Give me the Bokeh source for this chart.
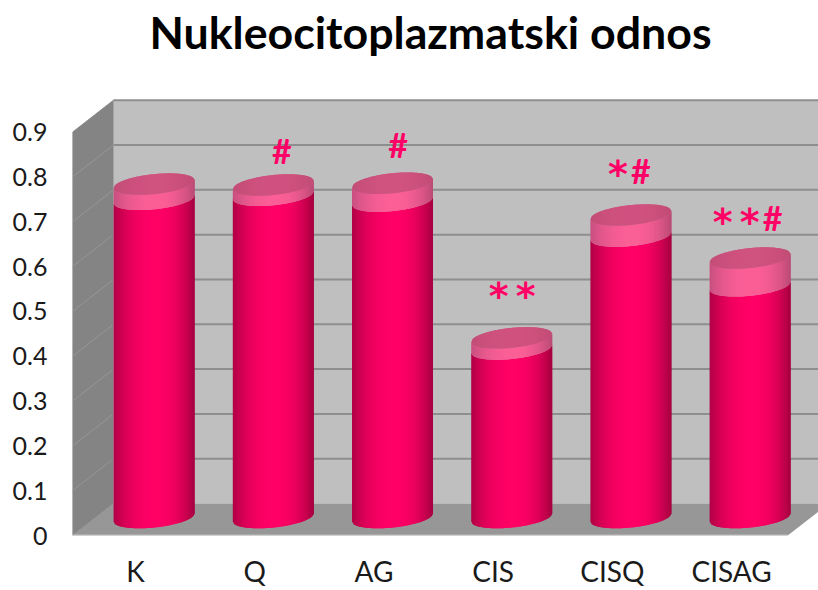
import math
from bokeh.plotting import figure
from bokeh.models import Range1d, FixedTicker
from bokeh.core.properties import value
from bokeh.embed import file_html
from bokeh.resources import INLINE

categories = ["K", "Q", "AG", "CIS", "CISQ", "CISAG"]
body_values = [0.710, 0.719, 0.706, 0.376, 0.628, 0.517]
total_values = [0.744, 0.742, 0.746, 0.401, 0.675, 0.579]
y_ticks = [0, 0.1, 0.2, 0.3, 0.4, 0.5, 0.6, 0.7, 0.8, 0.9]
y_tick_labels = ["0", "0.1", "0.2", "0.3", "0.4", "0.5", "0.6", "0.7", "0.8", "0.9"]
marker_texts = ["", "#", "#", "**", "*#", "**#"]
marker_heights = [0.0, 0.860, 0.873, 0.543, 0.815, 0.709]
marker_first_dx = [0, 8.5, 5.5, -13, -13, -27.5]

TITLE = "Nukleocitoplazmatski odnos"
W, H = 818, 590
LEFT, BOTTOM, TOP = 72, 54, 0
PX, PY = 1 / 119.2, 1 / 449.0
DEPTH_X, DEPTH_Y = 41 * PX, 32 * PY
BAR_DX, BAR_DY = 22 * PX, 18 * PY
LABEL_DX = 3.5 * PX
A, B, TILT = 40.5, 10.0, 4.0 / 40.5
N = 81
INK = "#FF0066"


def mix(c1, c2, t):
    a = [int(c1[i:i + 2], 16) for i in (1, 3, 5)]
    b = [int(c2[i:i + 2], 16) for i in (1, 3, 5)]
    return "#%02x%02x%02x" % tuple(round(a[i] + (b[i] - a[i]) * t) for i in range(3))


def shade(u, left, mid, right):
    peak = 0.05
    if u < peak:
        t = min(1, (peak - u) / (1 + peak))
        return mix(mid, left, t ** 2.2)
    t = min(1, (u - peak) / (1 - peak))
    return mix(mid, right, t ** 2.2)


x_end = (W - LEFT) * PX
y_end = (H - TOP - BOTTOM) * PY
p = figure(width=W, height=H, output_backend="svg", toolbar_location=None,
           x_range=Range1d(0, x_end), y_range=Range1d(0, y_end),
           min_border_left=LEFT, min_border_right=0, min_border_bottom=BOTTOM, min_border_top=TOP,
           outline_line_color=None, background_fill_color="white")
p.grid.visible = False

p.yaxis.ticker = FixedTicker(ticks=y_ticks)
p.yaxis.major_label_overrides = dict(zip(y_ticks, y_tick_labels))
tick_positions = [i + 0.5 + LABEL_DX for i in range(len(categories))]
p.xaxis.ticker = FixedTicker(ticks=tick_positions)
p.xaxis.major_label_overrides = dict(zip(tick_positions, categories))
for ax in (p.xaxis, p.yaxis):
    ax.axis_line_color = None
    ax.major_tick_line_color = None
    ax.minor_tick_line_color = None
    ax.major_tick_in = 0
    ax.major_tick_out = 0
    ax.major_label_text_font = "Lato"
    ax.major_label_text_color = "#1a1a1a"
p.yaxis.major_label_text_font_size = "25px"
p.xaxis.major_label_text_font_size = "28px"
p.yaxis.major_label_standoff = 25
p.xaxis.major_label_standoff = 18

top_v = y_ticks[-1]
right = x_end + 1
p.patch([0, DEPTH_X, DEPTH_X, 0], [0, DEPTH_Y, top_v + DEPTH_Y, top_v], fill_color="#848484", line_color="#8a8a8a", line_width=1)
p.patch([DEPTH_X, right, right, DEPTH_X], [DEPTH_Y, DEPTH_Y, top_v + DEPTH_Y, top_v + DEPTH_Y], fill_color="#bfbfbf", line_color=None)
front_right = len(categories)
p.patch([0, front_right, front_right + DEPTH_X, DEPTH_X], [0, 0, DEPTH_Y, DEPTH_Y], fill_color="#979797", line_color=None)
p.segment([0], [0], [front_right], [0], line_color="#bdbdbd", line_width=2)
p.segment([DEPTH_X] * len(y_ticks[1:]), [t + DEPTH_Y for t in y_ticks[1:]],
          [right] * len(y_ticks[1:]), [t + DEPTH_Y for t in y_ticks[1:]],
          line_color="#8e8e8e", line_width=2)
p.segment([0] * len(y_ticks[1:-1]), y_ticks[1:-1], [DEPTH_X] * len(y_ticks[1:-1]), [t + DEPTH_Y for t in y_ticks[1:-1]],
          line_color="#969696", line_width=1)


def curve(level, dx, side):
    r = max(0.0, 1 - (dx / A) ** 2)
    return level + (TILT * dx + side * B * math.sqrt(r)) * PY


def band(cx, low, high, low_side, high_side, stops):
    xs, ys, cols = [], [], []
    for k in range(N):
        d0 = -A + 2 * A * k / N
        d1 = -A + 2 * A * (k + 1) / N
        d2 = min(A, d1 + 1.0)  # each strip runs under the next, so no seams show
        xs.append([cx + d0 * PX, cx + d2 * PX, cx + d2 * PX, cx + d0 * PX])
        ys.append([curve(low, d0, low_side), curve(low, d2, low_side),
                   curve(high, d2, high_side), curve(high, d0, high_side)])
        cols.append(shade((d0 + d1) / (2 * A), *stops))
    p.patches(xs, ys, fill_color=cols, line_color=None)


for i, (b_v, t_v) in enumerate(zip(body_values, total_values)):
    cx = i + 0.5 + BAR_DX
    band(cx, BAR_DY, b_v + BAR_DY, -1, -1, ("#b00045", "#ff0066", "#a3003f"))
    band(cx, b_v + BAR_DY, t_v + BAR_DY, -1, -1, ("#c85080", "#fb5f96", "#b84a74"))
    band(cx, t_v + BAR_DY, t_v + BAR_DY, -1, 1, ("#c24d76", "#d0527f", "#c04c74"))

STEP = {"**": 27, "*#": 23}
star_x, star_y, hash_x, hash_y = [], [], [], []
for i, text in enumerate(marker_texts):
    pos = i + 0.5 + BAR_DX + marker_first_dx[i] * PX
    for j, ch in enumerate(text):
        if ch == "*":
            star_x.append(pos)
            star_y.append(marker_heights[i])
        else:
            hash_x.append(pos)
            hash_y.append(marker_heights[i])
        if j + 1 < len(text):
            pos += STEP[text[j:j + 2]] * PX

p.text(hash_x, hash_y, text=["#"] * len(hash_x), text_color=INK, text_font=value("Lato"),
       text_font_size="34px", text_align="center", text_baseline="middle", text_font_style="bold")
p.text(star_x, [y - 4 * PY for y in star_y], text=["*"] * len(star_x), text_color=INK, text_font=value("DejaVu Sans"),
       text_font_size="38px", text_align="center", text_baseline="middle", text_font_style="bold")

p.text([(430 - LEFT) * PX], [(H - BOTTOM - 32) * PY], text=[TITLE], text_align="center",
       text_baseline="middle", text_font=value("Lato"), text_font_size="44.7px",
       text_font_style="bold", text_color="#000000")

open("out.html", "w").write(file_html(p, INLINE))
